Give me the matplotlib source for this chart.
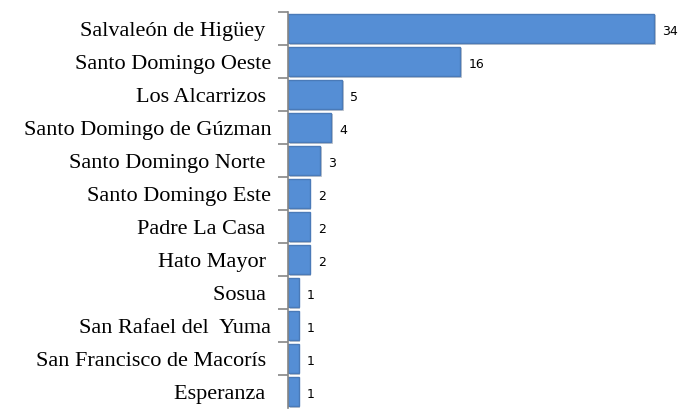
import matplotlib.pyplot as plt
import matplotlib.patheffects as pe

places = ['Salvaleón de Higüey ', 'Santo Domingo Oeste', 'Los Alcarrizos ',
          'Santo Domingo de Gúzman', 'Santo Domingo Norte ', 'Santo Domingo Este',
          'Padre La Casa ', 'Hato Mayor ', 'Sosua ', 'San Rafael del  Yuma',
          'San Francisco de Macorís ', 'Esperanza ']
counts = [34, 16, 5, 4, 3, 2, 2, 2, 1, 1, 1, 1]

fig = plt.figure(figsize=(6.83, 4.09), dpi=100)
ax = fig.add_axes([288 / 683, 1 / 409, 388 / 683, 396 / 409])

pos = list(range(len(places)))
bars = ax.barh(pos, counts, height=0.9, color='#558ED5', edgecolor='#4A7AB8',
               linewidth=1.0, zorder=2)
for b in bars:
    b.set_path_effects([pe.SimplePatchShadow(offset=(1.2, -1.2), alpha=0.25), pe.Normal()])
ax.set_ylim(len(places) - 0.5, -0.5)
ax.set_xlim(0, 36)

for y, v in zip(pos, counts):
    ax.text(v + 0.75, y + 0.08, str(v), va='center', ha='left', fontsize=9,
            family='DejaVu Sans', color='black')

# ticks between categories, labels at category centres
ax.set_yticks([p - 0.5 for p in pos])
ax.set_yticklabels([])
ax.set_yticks(pos, minor=True)
ax.set_yticklabels(places, minor=True, family='Liberation Serif', fontsize=16)
ax.tick_params(axis='y', which='major', length=7, color='#868686', width=1.2)
ax.tick_params(axis='y', which='minor', length=0, pad=12)

ax.set_xticks([])
for s in ['top', 'right', 'bottom']:
    ax.spines[s].set_visible(False)
ax.spines['left'].set_color('#868686')
ax.spines['left'].set_linewidth(1.2)

fig.savefig('out.png', dpi=100)
